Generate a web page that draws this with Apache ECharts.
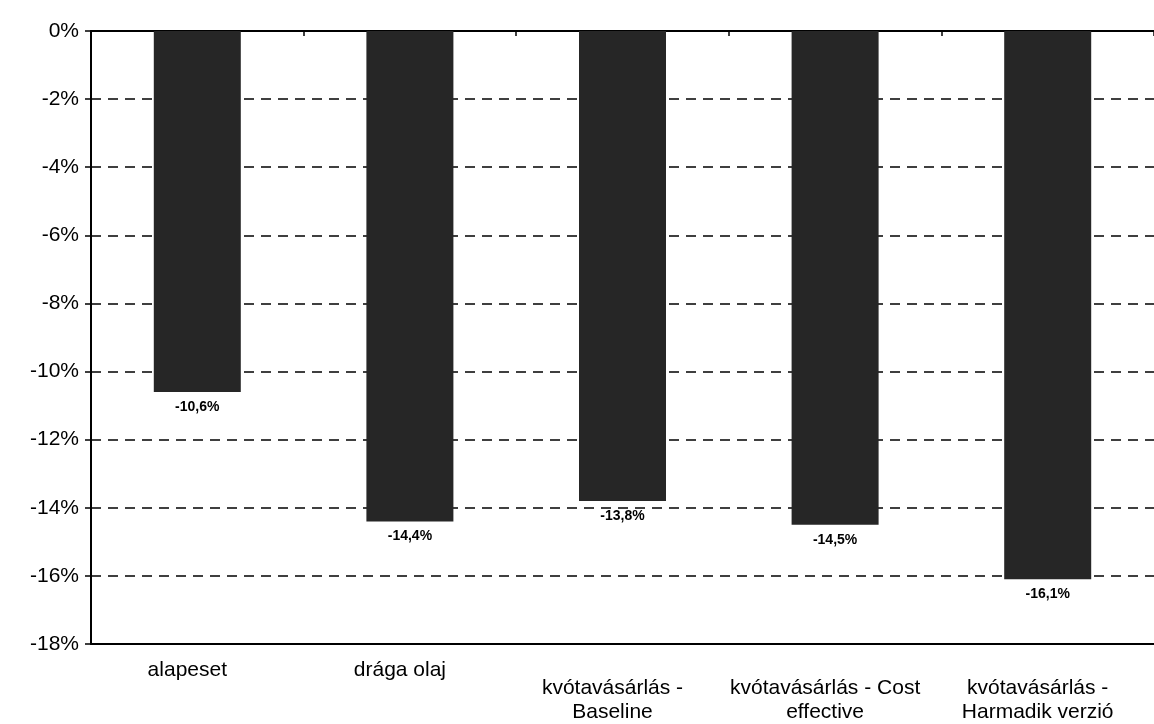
<!DOCTYPE html>
<html>
<head>
<meta charset="utf-8">
<script src="https://cdn.jsdelivr.net/npm/echarts@6/dist/echarts.min.js"></script>
<style>
  html, body { margin: 0; padding: 0; background: #ffffff; }
  #chart { width: 1154px; height: 724px; }
</style>
</head>
<body>
<div id="chart"></div>
<script>
// Scenario names (two-line ones are wrapped with \n)
const categories = [
  'alapeset',
  'drága olaj',
  'kvótavásárlás -\nBaseline',
  'kvótavásárlás - Cost\neffective',
  'kvótavásárlás -\nHarmadik verzió'
];
// Change in percent for each scenario
const values = [-10.6, -14.4, -13.8, -14.5, -16.1];
// Value axis range and step (percent)
const yMin = -18;
const yMax = 0;
const yStep = 2;

const FONT = 'Liberation Sans, Arial, sans-serif';

const chart = echarts.init(document.getElementById('chart'), null, { renderer: 'canvas' });

// Wrapped names start one line lower; every name sits a little left of its bar
const categoryData = categories.map(function (name) {
  const twoLines = name.indexOf('\n') >= 0;
  return {
    value: name,
    textStyle: { padding: [twoLines ? 18 : 0, 20, 0, 0] }
  };
});

chart.setOption({
  backgroundColor: '#ffffff',
  animation: false,
  grid: { left: 91, right: -5, top: 31, bottom: 78 },
  xAxis: [
    {
      type: 'category',
      data: categoryData,
      position: 'bottom',
      axisLine: { show: true, onZero: false, lineStyle: { color: '#000', width: 2 } },
      axisTick: { show: false },
      axisLabel: {
        color: '#000',
        fontFamily: FONT,
        fontSize: 21,
        lineHeight: 24,
        margin: 14,
        interval: 0,
        verticalAlign: 'top'
      },
      splitLine: { show: false }
    },
    {
      type: 'category',
      data: categories,
      position: 'top',
      axisLine: { show: true, onZero: false, lineStyle: { color: '#000', width: 2 } },
      axisTick: { show: true, inside: true, length: 5, lineStyle: { color: '#000', width: 1.5 } },
      axisLabel: { show: false },
      splitLine: { show: false }
    }
  ],
  yAxis: {
    type: 'value',
    min: yMin,
    max: yMax,
    interval: yStep,
    axisLine: { show: true, lineStyle: { color: '#000', width: 2 } },
    axisTick: { show: true, inside: false, length: 6, lineStyle: { color: '#000', width: 1.5 } },
    axisLabel: {
      color: '#000',
      fontFamily: FONT,
      fontSize: 21,
      margin: 12,
      formatter: function (v) { return v + '%'; }
    },
    splitLine: {
      show: true,
      lineStyle: { color: '#000', width: 1.5, type: [10, 7] }
    }
  },
  series: [
    {
      type: 'bar',
      xAxisIndex: 0,
      data: values,
      barWidth: 87,
      itemStyle: { color: '#262626' },
      label: {
        show: true,
        position: 'bottom',
        distance: 8,
        color: '#000',
        fontFamily: FONT,
        fontWeight: 'bold',
        fontSize: 14,
        formatter: function (p) { return p.value.toFixed(1).replace('.', ',') + '%'; }
      }
    }
  ]
});
</script>
</body>
</html>
